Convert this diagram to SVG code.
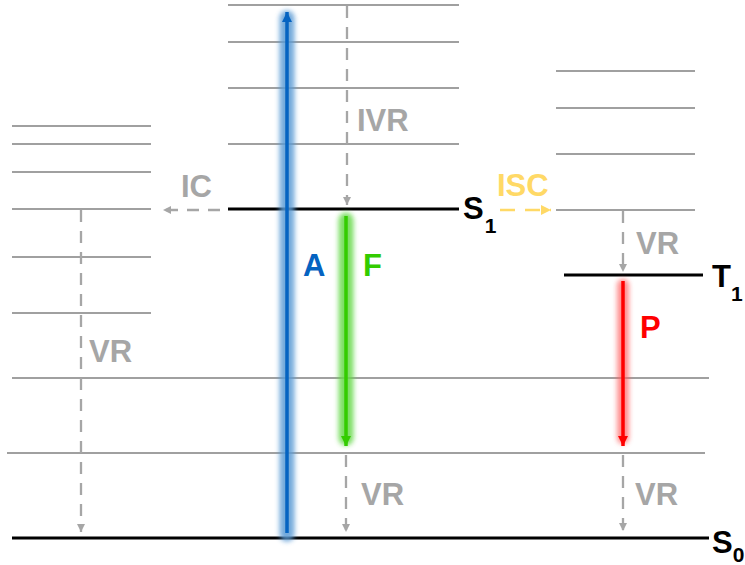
<svg xmlns="http://www.w3.org/2000/svg" width="745" height="565" viewBox="0 0 745 565">
<style>
.lvl{stroke:#808080;stroke-width:1.5;fill:none}
.main{stroke:#000;stroke-width:3.2;fill:none}
.vr{stroke:#A6A6A6;stroke-width:2.3;stroke-dasharray:12 9;fill:none}
.lbl{font-family:"Liberation Sans",Arial,sans-serif;font-weight:bold;font-size:31px}
.gray{fill:#A6A6A6}
.sub{font-size:21px}
</style>
<defs>
<marker id="hg" markerWidth="10" markerHeight="10" refX="8" refY="5" orient="auto" markerUnits="userSpaceOnUse"><path d="M0,1 L8,5 L0,9 Z" fill="#A6A6A6"/></marker>
<marker id="hy" markerWidth="12" markerHeight="12" refX="10" refY="6" orient="auto" markerUnits="userSpaceOnUse"><path d="M0,1 L10,6 L0,11 Z" fill="#FFD966"/></marker>
<marker id="hb" markerWidth="12" markerHeight="12" refX="10" refY="6" orient="auto" markerUnits="userSpaceOnUse"><path d="M0,1 L10,6 L0,11 Z" fill="#0563C1"/></marker>
<marker id="hgr" markerWidth="12" markerHeight="12" refX="10" refY="6" orient="auto" markerUnits="userSpaceOnUse"><path d="M0,1 L10,6 L0,11 Z" fill="#33CC00"/></marker>
<marker id="hr" markerWidth="12" markerHeight="12" refX="10" refY="6" orient="auto" markerUnits="userSpaceOnUse"><path d="M0,1 L10,6 L0,11 Z" fill="#FF0000"/></marker>
<filter id="blur" filterUnits="userSpaceOnUse" x="0" y="0" width="745" height="565"><feGaussianBlur stdDeviation="2.8"/></filter>
</defs>

<g id="levels">
<g id="left-stack">
<line class="lvl" x1="12" y1="126" x2="151" y2="126"/>
<line class="lvl" x1="12" y1="144" x2="151" y2="144"/>
<line class="lvl" x1="12" y1="172" x2="151" y2="172"/>
<line class="lvl" x1="12" y1="209" x2="151" y2="209"/>
<line class="lvl" x1="12" y1="257" x2="151" y2="257"/>
<line class="lvl" x1="12" y1="313" x2="151" y2="313"/>
</g>
<g id="mid-stack">
<line class="lvl" x1="228" y1="5" x2="459" y2="5"/>
<line class="lvl" x1="228" y1="42" x2="459" y2="42"/>
<line class="lvl" x1="228" y1="88" x2="459" y2="88"/>
<line class="lvl" x1="228" y1="144" x2="459" y2="144"/>
</g>
<g id="right-stack">
<line class="lvl" x1="556" y1="71" x2="695" y2="71"/>
<line class="lvl" x1="556" y1="108" x2="695" y2="108"/>
<line class="lvl" x1="556" y1="154" x2="695" y2="154"/>
<line class="lvl" x1="556" y1="210" x2="695" y2="210"/>
</g>
<g id="ground-vib">
<line class="lvl" x1="12" y1="378" x2="709" y2="378"/>
<line class="lvl" x1="7" y1="453" x2="705" y2="453"/>
</g>
</g>

<g id="S1"><line class="main" x1="228" y1="209" x2="459" y2="209"/>
<text class="lbl" x="463" y="219" fill="#000">S<tspan class="sub" dx="1" dy="14">1</tspan></text></g>
<g id="T1"><line class="main" x1="564" y1="275" x2="703" y2="275"/>
<text class="lbl" x="712" y="287" fill="#000">T<tspan class="sub" dx="0" dy="14">1</tspan></text></g>
<g id="S0"><line class="main" x1="12" y1="538" x2="709" y2="538"/>
<text class="lbl" x="712" y="553" fill="#000">S<tspan class="sub" dx="0" dy="9">0</tspan></text></g>

<g id="connectors">
<g id="A">
<line x1="287" y1="534" x2="287" y2="18" stroke="#5B9BD5" stroke-width="15" stroke-linecap="round" opacity="0.85" filter="url(#blur)"/>
<line x1="287" y1="533" x2="287" y2="12" stroke="#0563C1" stroke-width="3.5" marker-end="url(#hb)"/>
</g>
<g id="F">
<line x1="346" y1="220" x2="346" y2="438" stroke="#66D94A" stroke-width="15" stroke-linecap="round" opacity="0.85" filter="url(#blur)"/>
<line x1="346" y1="216" x2="346" y2="446" stroke="#33CC00" stroke-width="3.5" marker-end="url(#hgr)"/>
</g>
<g id="P">
<line x1="623" y1="285" x2="623" y2="438" stroke="#FF6060" stroke-width="12" stroke-linecap="round" opacity="0.7" filter="url(#blur)"/>
<line x1="623" y1="281" x2="623" y2="446" stroke="#FF0000" stroke-width="3.5" marker-end="url(#hr)"/>
</g>
<line class="vr" x1="347" y1="6" x2="347" y2="205" marker-end="url(#hg)"/>
<line class="vr" x1="81" y1="210" x2="81" y2="532" marker-end="url(#hg)"/>
<line class="vr" x1="346" y1="455" x2="346" y2="532" marker-end="url(#hg)"/>
<line class="vr" x1="623" y1="211" x2="623" y2="272" marker-end="url(#hg)"/>
<line class="vr" x1="623" y1="455" x2="623" y2="531" marker-end="url(#hg)"/>
<line class="vr" x1="220" y1="210" x2="163" y2="210" stroke-width="2.5" stroke-dasharray="17 10" marker-end="url(#hg)"/>
<line x1="500" y1="210" x2="551" y2="210" stroke="#FFD966" stroke-width="2.5" stroke-dasharray="15 10" marker-end="url(#hy)"/>
</g>

<g id="labels">
<text class="lbl gray" x="181" y="197">IC</text>
<text class="lbl gray" x="357" y="131">IVR</text>
<text class="lbl gray" x="89" y="362">VR</text>
<text class="lbl gray" x="636" y="254">VR</text>
<text class="lbl gray" x="361" y="505">VR</text>
<text class="lbl gray" x="635" y="505">VR</text>
<text class="lbl" x="497" y="196" fill="#FFD966">ISC</text>
<text class="lbl" x="303" y="276" fill="#0563C1">A</text>
<text class="lbl" x="363" y="276" fill="#33CC00">F</text>
<text class="lbl" x="640" y="338" fill="#FF0000">P</text>
</g>
</svg>
